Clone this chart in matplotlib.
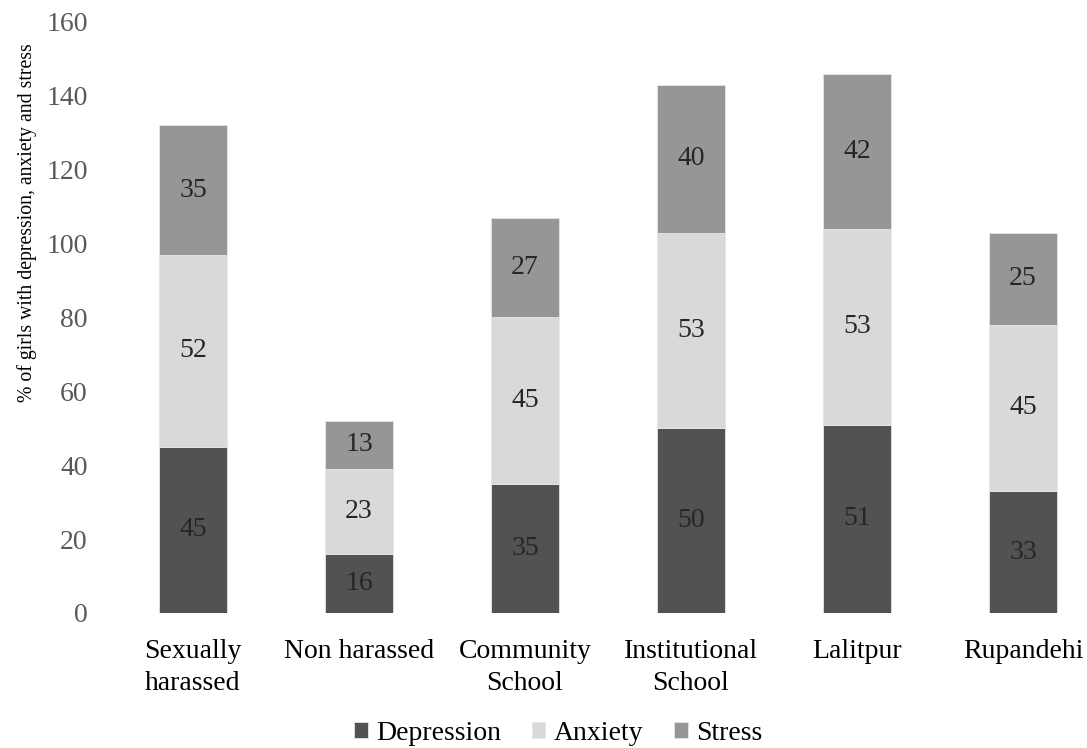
import matplotlib.pyplot as plt
import numpy as np

plt.rcParams['font.family'] = ['Liberation Serif', 'DejaVu Serif']

groups = ['Sexually\nharassed', 'Non harassed', 'Community\nSchool',
          'Institutional\nSchool', 'Lalitpur', 'Rupandehi']
depression = [45, 16, 35, 50, 51, 33]
anxiety = [52, 23, 45, 53, 53, 45]
stress = [35, 13, 27, 40, 42, 25]

series = [('Depression', depression, '#525252'),
          ('Anxiety', anxiety, '#d9d9d9'),
          ('Stress', stress, '#969696')]

fig = plt.figure(figsize=(10.87, 7.48), dpi=100)
ax = fig.add_axes([110 / 1087, 1 - 613 / 748, 1 - 110 / 1087, (613 - 22) / 748])

x = np.arange(len(groups))
bottom = np.zeros(len(groups))
for name, vals, col in series:
    vals = np.array(vals)
    ax.bar(x, vals, 0.405, bottom=bottom, color=col, label=name,
           edgecolor='#e6e6e6', linewidth=0.6)
    for xi, b, v in zip(x, bottom, vals):
        ax.text(xi, b + v / 2, str(v), ha='center', va='center',
                fontsize=20, color='#262626')
    bottom += vals

ax.set_xlim(-0.5, (1087 - 193) / 166)
ax.set_ylim(0, 160)
ax.set_yticks(range(0, 161, 20))
ax.set_xticks(x)
ax.set_xticklabels(groups, fontsize=20, color='black', va='top', linespacing=1.35)
ax.tick_params(axis='y', labelsize=20, labelcolor='#595959', length=0, pad=16)
ax.tick_params(axis='x', length=0, pad=19)
for s in ax.spines.values():
    s.set_visible(False)
ax.set_ylabel('% of girls with depression, anxiety and stress', fontsize=14.2)
ax.yaxis.set_label_coords(-0.075, 0.66)

ax.legend(loc='center', bbox_to_anchor=(558 / 1087, 1 - 733 / 748),
          bbox_transform=fig.transFigure, ncol=3, frameon=False, fontsize=20,
          handlelength=0.5, handleheight=0.5, handletextpad=0.3,
          columnspacing=1.1, borderpad=0)

fig.savefig('out.png', dpi=100)
